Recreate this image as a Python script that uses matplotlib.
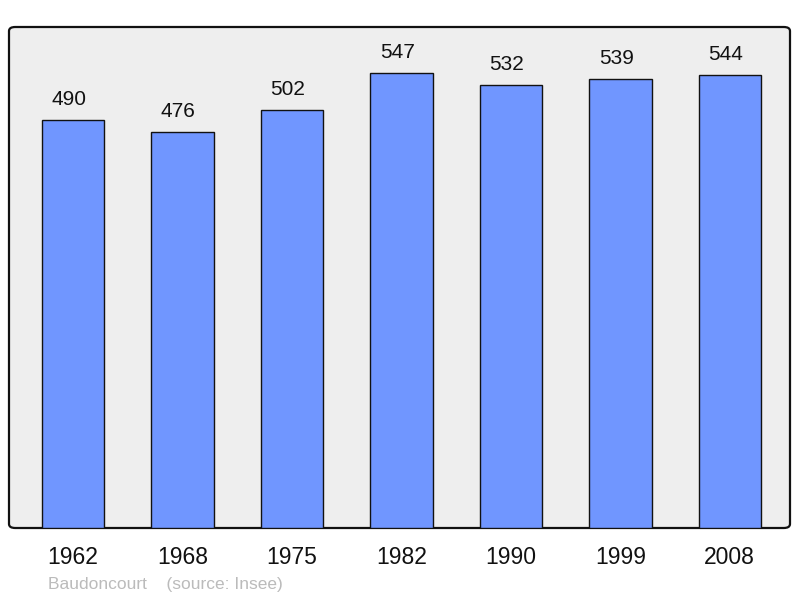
import matplotlib
matplotlib.use("Agg")
from matplotlib import pyplot as plt
from matplotlib.patches import FancyBboxPatch

############# Data ############
years = ["1962", "1968", "1975", "1982", "1990", "1999", "2008"]
population = [490, 476, 502, 547, 532, 539, 544]
commune = "Baudoncourt"
source = "(source: Insee)"
###############################

plt.rcParams['font.family'] = ['Liberation Sans', 'DejaVu Sans']

fig = plt.figure(figsize=(8, 5.98), dpi=100)
ax = fig.add_axes([9/800, 70/598, 781/800, 501/598])
ax.set_facecolor('none')

# rounded background frame
bg = FancyBboxPatch((0, 0), 1, 1, boxstyle="round,pad=0,rounding_size=0.008",
                    transform=ax.transAxes, facecolor='#eeeeee', edgecolor='#111111',
                    linewidth=1.6, clip_on=False, zorder=0)
ax.add_patch(bg)
for s in ax.spines.values():
    s.set_visible(False)

x = range(len(years))
bars = ax.bar(x, population, width=0.57, color='#7096ff', edgecolor='#111111',
              linewidth=1.0, zorder=2)
for xi, v in zip(x, population):
    ax.annotate(str(v), (xi, v), xytext=(-3, 8), textcoords='offset points',
                ha='center', va='bottom', fontsize=15, color='#111111')

ax.set_xlim(-0.585, 6.55)
ax.set_ylim(0, 602)
ax.set_yticks([])
ax.set_xticks(list(x))
ax.set_xticklabels(years, fontsize=16.5, color='#111111')
ax.tick_params(axis='x', length=0, pad=13)

fig.text(48/800, 1 - 584/598, commune + "    " + source, fontsize=12.5,
         color='#bbbbbb', va='center', ha='left')

fig.savefig('out.png', dpi=100)
